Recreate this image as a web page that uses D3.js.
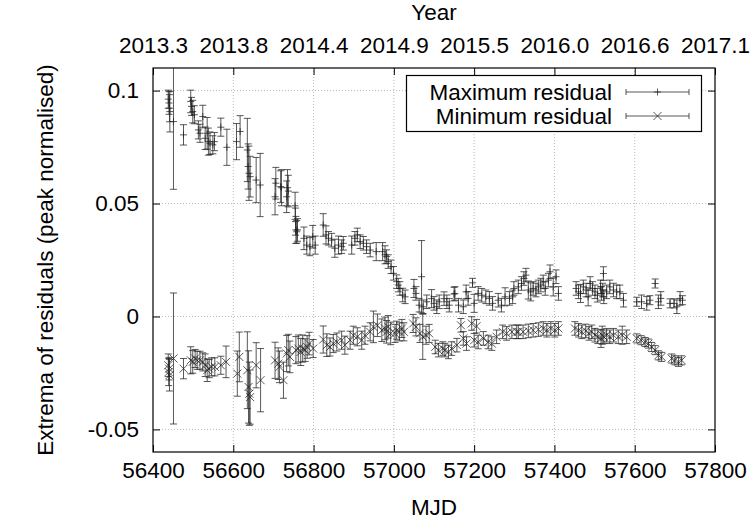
<!DOCTYPE html>
<html>
<head>
<meta charset="utf-8">
<script src="https://cdn.jsdelivr.net/npm/d3@7/dist/d3.min.js"></script>
<style>
  body { margin: 0; background: #fff; }
  svg { display: block; font-family: "Liberation Sans", Arial, Helvetica, sans-serif; }
</style>
</head>
<body>
<div id="chart"></div>
<script>
// tick values / labels
const mjdTicks = [56400, 56600, 56800, 57000, 57200, 57400, 57600, 57800];
const yearLabels = ["2013.3", "2013.8", "2014.4", "2014.9", "2015.5", "2016.0", "2016.6", "2017.1"];
const yTicks = [-0.05, 0, 0.05, 0.1];

// [MJD, value, error]
const maxResidual = [
  [56438, 0.0962, 0.004], [56440, 0.0945, 0.005], [56441, 0.0922, 0.006], [56442, 0.0907, 0.009],
  [56451, 0.0863, 0.030], [56476, 0.0804, 0.0045], [56494, 0.0952, 0.005], [56496, 0.0930, 0.004],
  [56499, 0.0907, 0.005], [56503, 0.0893, 0.004], [56513, 0.0826, 0.004], [56517, 0.0811, 0.004],
  [56524, 0.0885, 0.005], [56530, 0.0789, 0.005], [56535, 0.0811, 0.007], [56538, 0.0774, 0.006],
  [56542, 0.0767, 0.005], [56549, 0.0760, 0.004], [56553, 0.0774, 0.004], [56569, 0.0838, 0.004],
  [56584, 0.0749, 0.008], [56608, 0.0774, 0.008], [56617, 0.0819, 0.007], [56635, 0.0737, 0.014],
  [56637, 0.0664, 0.010], [56639, 0.0634, 0.012], [56642, 0.0619, 0.009], [56657, 0.0604, 0.010],
  [56667, 0.0582, 0.014], [56704, 0.0530, 0.008], [56706, 0.0590, 0.007], [56718, 0.0575, 0.007],
  [56720, 0.0570, 0.008], [56733, 0.0530, 0.007], [56735, 0.0570, 0.008], [56737, 0.0555, 0.007],
  [56754, 0.0490, 0.006], [56755, 0.0420, 0.006], [56756, 0.0383, 0.006], [56758, 0.0375, 0.005],
  [56760, 0.0383, 0.005], [56776, 0.0346, 0.005], [56783, 0.0316, 0.004], [56791, 0.0309, 0.004],
  [56798, 0.0353, 0.005], [56804, 0.0316, 0.004], [56824, 0.0405, 0.005], [56831, 0.0361, 0.004],
  [56837, 0.0346, 0.003], [56845, 0.0338, 0.003], [56853, 0.0302, 0.004], [56862, 0.0316, 0.004],
  [56870, 0.0309, 0.003], [56874, 0.0324, 0.003], [56895, 0.0316, 0.004], [56903, 0.0346, 0.003],
  [56909, 0.0361, 0.003], [56916, 0.0331, 0.003], [56924, 0.0324, 0.003], [56932, 0.0309, 0.003],
  [56941, 0.0294, 0.003], [56956, 0.0287, 0.004], [56972, 0.0287, 0.004], [56978, 0.0273, 0.004],
  [56982, 0.0265, 0.003], [56986, 0.0243, 0.003], [56993, 0.0220, 0.003], [56999, 0.0191, 0.003],
  [57007, 0.0154, 0.003], [57011, 0.0139, 0.003], [57015, 0.0124, 0.003], [57022, 0.0095, 0.003],
  [57028, 0.0087, 0.003], [57050, 0.0124, 0.004], [57055, 0.0102, 0.003], [57063, 0.0050, 0.003],
  [57069, 0.0176, 0.016], [57073, 0.0043, 0.003], [57082, 0.0065, 0.003], [57094, 0.0079, 0.004],
  [57100, 0.0058, 0.003], [57107, 0.0043, 0.003], [57113, 0.0065, 0.003], [57125, 0.0079, 0.003],
  [57132, 0.0065, 0.003], [57138, 0.0050, 0.003], [57150, 0.0099, 0.003], [57152, 0.0102, 0.003],
  [57161, 0.0050, 0.003], [57173, 0.0043, 0.003], [57180, 0.0109, 0.003], [57185, 0.0080, 0.003],
  [57196, 0.0149, 0.002], [57200, 0.0058, 0.004], [57210, 0.0102, 0.003], [57219, 0.0094, 0.003],
  [57229, 0.0087, 0.003], [57238, 0.0080, 0.003], [57246, 0.0058, 0.003], [57260, 0.0072, 0.003],
  [57268, 0.0050, 0.003], [57277, 0.0087, 0.004], [57288, 0.0080, 0.003], [57296, 0.0087, 0.003],
  [57299, 0.0124, 0.003], [57310, 0.0131, 0.003], [57318, 0.0146, 0.003], [57324, 0.0168, 0.003],
  [57329, 0.0183, 0.003], [57335, 0.0117, 0.004], [57341, 0.0109, 0.004], [57347, 0.0124, 0.003],
  [57354, 0.0117, 0.003], [57360, 0.0131, 0.003], [57366, 0.0139, 0.003], [57372, 0.0153, 0.003],
  [57377, 0.0124, 0.003], [57385, 0.0161, 0.003], [57389, 0.0198, 0.003], [57397, 0.0131, 0.004],
  [57404, 0.0176, 0.003], [57410, 0.0102, 0.003], [57454, 0.0124, 0.003], [57460, 0.0109, 0.003],
  [57465, 0.0102, 0.004], [57472, 0.0131, 0.003], [57479, 0.0117, 0.003], [57484, 0.0087, 0.004],
  [57489, 0.0146, 0.003], [57495, 0.0124, 0.003], [57501, 0.0109, 0.003], [57507, 0.0094, 0.003],
  [57515, 0.0131, 0.003], [57517, 0.0102, 0.003], [57520, 0.0117, 0.003], [57522, 0.0190, 0.003],
  [57523, 0.0087, 0.003], [57530, 0.0109, 0.003], [57538, 0.0131, 0.003], [57547, 0.0117, 0.003],
  [57555, 0.0109, 0.003], [57563, 0.0109, 0.003], [57572, 0.0072, 0.003], [57605, 0.0065, 0.002],
  [57617, 0.0065, 0.003], [57630, 0.0058, 0.003], [57638, 0.0072, 0.002], [57651, 0.0146, 0.002],
  [57659, 0.0065, 0.003], [57665, 0.0080, 0.003], [57688, 0.0058, 0.002], [57698, 0.0058, 0.002],
  [57705, 0.0043, 0.003], [57713, 0.0080, 0.003], [57719, 0.0072, 0.002]
];

const minResidual = [
  [56438, -0.0216, 0.005], [56440, -0.0231, 0.005], [56439, -0.0246, 0.006], [56441, -0.0260, 0.007],
  [56451, -0.0186, 0.029], [56476, -0.0231, 0.0045], [56494, -0.0194, 0.006], [56499, -0.0201, 0.005],
  [56505, -0.0186, 0.004], [56510, -0.0194, 0.004], [56517, -0.0194, 0.004], [56524, -0.0201, 0.004],
  [56530, -0.0216, 0.005], [56535, -0.0238, 0.005], [56540, -0.0231, 0.004], [56546, -0.0223, 0.004],
  [56554, -0.0223, 0.004], [56569, -0.0216, 0.004], [56582, -0.0201, 0.007], [56610, -0.0253, 0.010],
  [56615, -0.0179, 0.011], [56635, -0.0238, 0.017], [56638, -0.0312, 0.016], [56640, -0.0342, 0.014],
  [56642, -0.0357, 0.012], [56657, -0.0216, 0.010], [56668, -0.0282, 0.014], [56704, -0.0194, 0.008],
  [56712, -0.0209, 0.007], [56715, -0.0223, 0.007], [56725, -0.0282, 0.008], [56733, -0.0164, 0.008],
  [56737, -0.0149, 0.007], [56741, -0.0179, 0.007], [56756, -0.0149, 0.006], [56762, -0.0142, 0.006],
  [56768, -0.0157, 0.006], [56773, -0.0142, 0.006], [56779, -0.0149, 0.005], [56784, -0.0135, 0.005],
  [56789, -0.0120, 0.005], [56799, -0.0142, 0.004], [56824, -0.0102, 0.006], [56833, -0.0127, 0.005],
  [56841, -0.0135, 0.004], [56849, -0.0120, 0.004], [56858, -0.0113, 0.004], [56870, -0.0105, 0.004],
  [56878, -0.0127, 0.004], [56891, -0.0105, 0.004], [56899, -0.0083, 0.004], [56909, -0.0090, 0.004],
  [56920, -0.0105, 0.004], [56928, -0.0083, 0.004], [56941, -0.0068, 0.004], [56949, -0.0046, 0.007],
  [56959, -0.0039, 0.005], [56970, -0.0061, 0.005], [56978, -0.0053, 0.005], [56982, -0.0068, 0.005],
  [56986, -0.0046, 0.005], [56992, -0.0075, 0.005], [57003, -0.0075, 0.004], [57007, -0.0061, 0.004],
  [57014, -0.0068, 0.004], [57020, -0.0053, 0.004], [57025, -0.0068, 0.004], [57048, -0.0031, 0.004],
  [57055, -0.0046, 0.004], [57065, -0.0075, 0.004], [57072, -0.0090, 0.010], [57080, -0.0083, 0.004],
  [57088, -0.0075, 0.004], [57103, -0.0135, 0.003], [57111, -0.0149, 0.003], [57122, -0.0142, 0.003],
  [57127, -0.0149, 0.003], [57136, -0.0157, 0.003], [57144, -0.0142, 0.003], [57157, -0.0127, 0.003],
  [57167, -0.0039, 0.003], [57173, -0.0097, 0.003], [57181, -0.0120, 0.003], [57194, -0.0031, 0.003],
  [57200, -0.0105, 0.003], [57206, -0.0043, 0.003], [57210, -0.0113, 0.003], [57223, -0.0097, 0.003],
  [57235, -0.0113, 0.003], [57244, -0.0120, 0.003], [57256, -0.0090, 0.003], [57271, -0.0068, 0.003],
  [57281, -0.0075, 0.003], [57294, -0.0068, 0.003], [57306, -0.0068, 0.003], [57310, -0.0068, 0.003],
  [57322, -0.0068, 0.003], [57335, -0.0064, 0.003], [57347, -0.0061, 0.003], [57360, -0.0058, 0.003],
  [57372, -0.0053, 0.003], [57381, -0.0061, 0.003], [57391, -0.0053, 0.003], [57401, -0.0061, 0.003],
  [57410, -0.0053, 0.003], [57451, -0.0053, 0.003], [57460, -0.0061, 0.003], [57468, -0.0068, 0.003],
  [57478, -0.0064, 0.003], [57486, -0.0075, 0.003], [57493, -0.0068, 0.003], [57501, -0.0083, 0.003],
  [57508, -0.0090, 0.003], [57516, -0.0097, 0.004], [57519, -0.0083, 0.004], [57523, -0.0090, 0.003],
  [57530, -0.0083, 0.003], [57538, -0.0090, 0.003], [57547, -0.0083, 0.003], [57559, -0.0090, 0.003],
  [57569, -0.0083, 0.004], [57580, -0.0090, 0.003], [57605, -0.0097, 0.002], [57616, -0.0105, 0.002],
  [57626, -0.0113, 0.002], [57634, -0.0120, 0.002], [57642, -0.0135, 0.002], [57651, -0.0149, 0.002],
  [57659, -0.0172, 0.002], [57667, -0.0179, 0.002], [57692, -0.0186, 0.002], [57700, -0.0194, 0.002],
  [57709, -0.0201, 0.002], [57717, -0.0194, 0.002]
];

const width = 750, height = 525;
const margin = { top: 68, right: 35, bottom: 73, left: 153 };
const innerW = width - margin.left - margin.right;
const innerH = height - margin.top - margin.bottom;

const svg = d3.select("#chart").append("svg")
  .attr("width", width).attr("height", height);

const x = d3.scaleLinear().domain([56400, 57800]).range([margin.left, margin.left + innerW]);
const y = d3.scaleLinear().domain([-0.06, 0.11]).range([margin.top + innerH, margin.top]);

const ink = "#222";
const fontSize = "22.5px";

// grid
const grid = svg.append("g").attr("stroke", "#bbb").attr("stroke-dasharray", "1,2").attr("stroke-width", 1);
grid.selectAll("line.gx").data(mjdTicks.slice(1, -1)).enter().append("line")
  .attr("x1", d => x(d)).attr("x2", d => x(d))
  .attr("y1", margin.top).attr("y2", margin.top + innerH);
grid.selectAll("line.gy").data(yTicks).enter().append("line")
  .attr("y1", d => y(d)).attr("y2", d => y(d))
  .attr("x1", margin.left).attr("x2", margin.left + innerW);

// axes (ticks point inwards like gnuplot)
const axisStyle = g => {
  g.select(".domain").remove();
  g.selectAll(".tick line").attr("stroke", "#000");
  g.selectAll(".tick text").attr("fill", "#000").style("font-size", fontSize).style("font-family", "Liberation Sans, Arial, sans-serif");
};

svg.append("g").attr("transform", `translate(0,${margin.top + innerH})`)
  .call(d3.axisBottom(x).tickValues(mjdTicks).tickFormat(d3.format("d")).tickSize(-7).tickPadding(10))
  .call(axisStyle);

svg.append("g").attr("transform", `translate(0,${margin.top})`)
  .call(d3.axisTop(x).tickValues(mjdTicks).tickFormat((d, i) => yearLabels[i]).tickSize(-7).tickPadding(15))
  .call(axisStyle);

svg.append("g").attr("transform", `translate(${margin.left},0)`)
  .call(d3.axisLeft(y).tickValues(yTicks).tickFormat(d => d === 0 ? "0" : String(d)).tickSize(-7).tickPadding(14))
  .call(axisStyle);

svg.append("g").attr("transform", `translate(${margin.left + innerW},0)`)
  .call(d3.axisRight(y).tickValues(yTicks).tickFormat("").tickSize(-7))
  .call(axisStyle);

// frame
svg.append("rect")
  .attr("x", margin.left).attr("y", margin.top)
  .attr("width", innerW).attr("height", innerH)
  .attr("fill", "none").attr("stroke", "#000").attr("stroke-width", 1.2);

// axis titles
svg.append("text").attr("x", x(57100)).attr("y", 515).attr("text-anchor", "middle")
  .style("font-size", fontSize).text("MJD");
svg.append("text").attr("x", x(57100)).attr("y", 20).attr("text-anchor", "middle")
  .style("font-size", fontSize).text("Year");
svg.append("text")
  .attr("transform", `translate(53,${margin.top + innerH / 2}) rotate(-90)`)
  .attr("text-anchor", "middle")
  .style("font-size", fontSize).text("Extrema of residuals (peak normalised)");

// clip for data
svg.append("clipPath").attr("id", "plotclip").append("rect")
  .attr("x", margin.left).attr("y", margin.top).attr("width", innerW).attr("height", innerH);

const plot = svg.append("g").attr("clip-path", "url(#plotclip)")
  .attr("stroke", ink).attr("stroke-width", 1).attr("stroke-opacity", 0.75).attr("fill", "none");

const cap = 3.5;

function errorBars(g, data) {
  const e = g.selectAll(null).data(data).enter().append("path")
    .attr("d", d => {
      const cx = x(d[0]), y1 = y(d[1] + d[2]), y2 = y(d[1] - d[2]);
      return `M${cx},${y1}V${y2}M${cx - cap},${y1}H${cx + cap}M${cx - cap},${y2}H${cx + cap}`;
    });
  return e;
}

function plusPath(cx, cy, s) {
  return `M${cx - s},${cy}H${cx + s}M${cx},${cy - s}V${cy + s}`;
}
function crossPath(cx, cy, s) {
  return `M${cx - s},${cy - s}L${cx + s},${cy + s}M${cx - s},${cy + s}L${cx + s},${cy - s}`;
}

const gMax = plot.append("g");
errorBars(gMax, maxResidual);
gMax.selectAll(null).data(maxResidual).enter().append("path")
  .attr("d", d => plusPath(x(d[0]), y(d[1]), 3.5));

const gMin = plot.append("g");
errorBars(gMin, minResidual);
gMin.selectAll(null).data(minResidual).enter().append("path")
  .attr("d", d => crossPath(x(d[0]), y(d[1]), 4));

// legend
const legend = svg.append("g");
legend.append("rect").attr("x", 406.5).attr("y", 75.5).attr("width", 295).attr("height", 56)
  .attr("fill", "#fff").attr("stroke", "#000").attr("stroke-width", 1.2);

const legendItems = [
  { label: "Maximum residual", y: 92, marker: plusPath },
  { label: "Minimum residual", y: 116, marker: crossPath }
];
legendItems.forEach(it => {
  legend.append("text").attr("x", 612).attr("y", it.y + 8).attr("text-anchor", "end")
    .style("font-size", fontSize).text(it.label);
  legend.append("path")
    .attr("d", `M626,${it.y}H689M626,${it.y - 3}V${it.y + 3}M689,${it.y - 3}V${it.y + 3}`)
    .attr("stroke", ink).attr("stroke-opacity", 0.75).attr("fill", "none");
  legend.append("path")
    .attr("d", it.marker(657.5, it.y, it.marker === plusPath ? 3.5 : 4))
    .attr("stroke", ink).attr("stroke-opacity", 0.75).attr("fill", "none");
});
</script>
</body>
</html>
